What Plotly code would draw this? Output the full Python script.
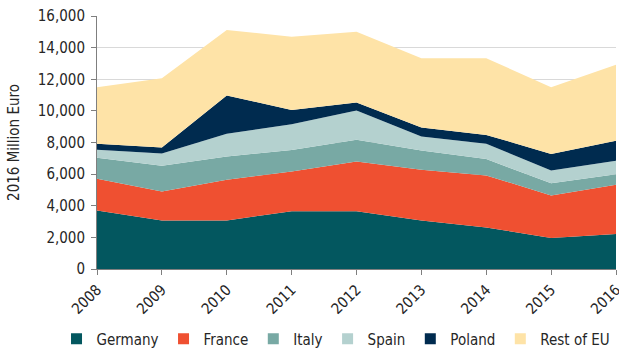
import plotly.graph_objects as go

# EU spending by country, 2016 million euro (stacked)
years = [2008, 2009, 2010, 2011, 2012, 2013, 2014, 2015, 2016]
germany = [3700, 3070, 3070, 3660, 3660, 3070, 2630, 1960, 2210]
france = [2000, 1830, 2570, 2510, 3140, 3200, 3290, 2690, 3120]
italy = [1330, 1630, 1480, 1350, 1370, 1220, 1030, 780, 670]
spain = [510, 770, 1430, 1640, 1850, 890, 970, 800, 840]
poland = [380, 380, 2420, 900, 510, 570, 560, 1050, 1270]
rest_of_eu = [3570, 4380, 4150, 4630, 4480, 4380, 4850, 4210, 4800]

series_names = ["Germany", "France", "Italy", "Spain", "Poland", "Rest of EU"]
series_values = [germany, france, italy, spain, poland, rest_of_eu]
series_colors = ["#03575F", "#EF5031", "#78A9A4", "#B4D1CF", "#002B4F", "#FEE3A7"]

y_ticks = [0, 2000, 4000, 6000, 8000, 10000, 12000, 14000, 16000]

FONT = "DejaVu Sans Condensed, Liberation Sans Narrow, DejaVu Sans, sans-serif"

fig = go.Figure()

# stacked areas
for name, vals, color in zip(series_names, series_values, series_colors):
    fig.add_trace(go.Scatter(
        x=years, y=vals, name=name, stackgroup="eu", mode="none",
        fillcolor=color, line=dict(width=0), showlegend=False,
        hoverinfo="x+y+name",
    ))

# square legend keys
for name, color in zip(series_names, series_colors):
    fig.add_trace(go.Scatter(
        x=[None], y=[None], name=name, mode="markers",
        marker=dict(symbol="square", size=11, color=color, line=dict(width=0)),
        showlegend=True,
    ))

fig.update_layout(
    width=619, height=350,
    margin=dict(l=97, r=3, t=16, b=81, autoexpand=False),
    paper_bgcolor="white", plot_bgcolor="white",
    font=dict(family=FONT, size=15, color="#262626"),
    showlegend=True,
    legend=dict(
        orientation="h", x=-0.078, xanchor="left", y=-0.277, yanchor="middle",
        traceorder="normal",
        font=dict(family=FONT, size=15, color="#262626"),
        itemwidth=30, tracegroupgap=0, bgcolor="rgba(0,0,0,0)",
    ),
)

fig.update_xaxes(
    range=[years[0], years[-1]], tickvals=years, ticktext=[str(y) for y in years],
    tickangle=-45, ticks="outside", ticklen=5, tickcolor="#7F7F7F",
    showline=True, linecolor="#7F7F7F", linewidth=1,
    showgrid=False, zeroline=False, automargin=False,
    ticklabeloverflow="allow",
    tickfont=dict(family=FONT, size=15, color="#262626"),
)
fig.update_yaxes(
    range=[0, 16000], tickvals=y_ticks, tickformat=",d",
    ticks="outside", ticklen=5, tickcolor="#7F7F7F",
    showline=True, linecolor="#7F7F7F", linewidth=1,
    showgrid=True, gridcolor="#D9D9D9", gridwidth=1, zeroline=False,
    automargin=False, ticklabelstandoff=3,
    title=dict(text="2016 Million Euro", font=dict(family=FONT, size=15, color="#262626"), standoff=14),
    tickfont=dict(family=FONT, size=15, color="#262626"),
)

fig.write_html("out.html")
